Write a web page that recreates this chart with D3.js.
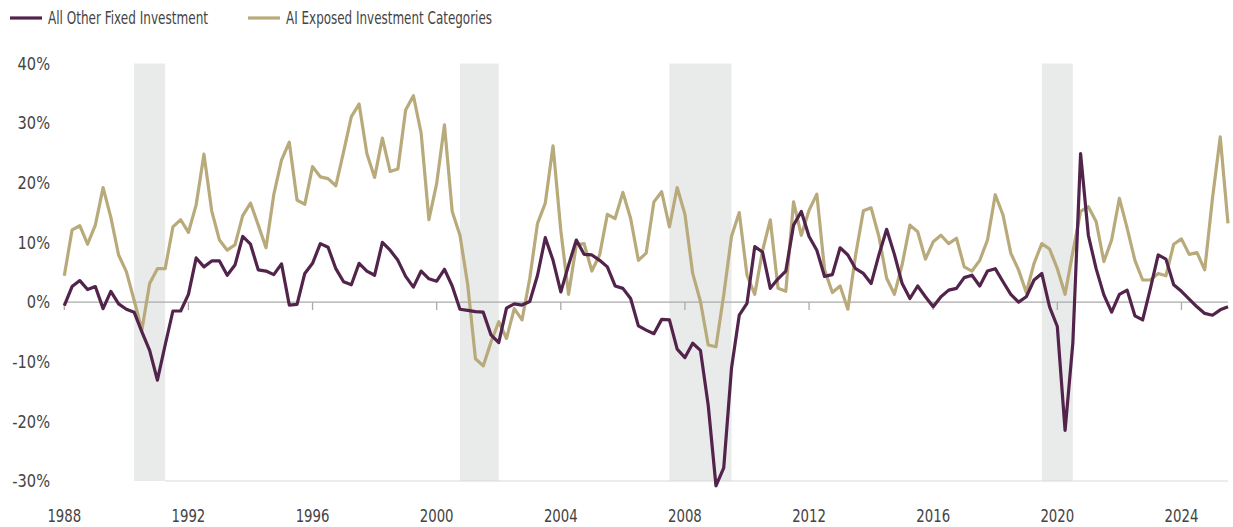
<!DOCTYPE html>
<html lang="en">
<head>
  <meta charset="UTF-8">
  <title>Fixed Investment Growth</title>
  <script src="https://d3js.org/d3.v7.min.js"></script>
  <style>
    body { margin: 0; background: #fff; }
    text { font-family: "DejaVu Sans Condensed", "Liberation Sans Narrow", "Roboto", sans-serif; fill: #444; }
  </style>
</head>
<body>
  <svg id="chart" width="1233" height="527"></svg>

  <script>
    // quarterly data, first point 1988 Q1
    const startYear = 1988;

    const allOther = [
      -0.6, 2.6, 3.6, 2.1, 2.6, -1.1, 1.8, -0.3, -1.2, -1.7,
      -5.0, -8.1, -13.1, -7.2, -1.5, -1.5, 1.3, 7.4, 5.9, 6.9,
      6.9, 4.5, 6.2, 11.0, 9.7, 5.4, 5.2, 4.6, 6.4, -0.5,
      -0.4, 4.8, 6.5, 9.8, 9.2, 5.6, 3.4, 2.9, 6.5, 5.2,
      4.5, 10.0, 8.7, 7.0, 4.3, 2.5, 5.2, 3.9, 3.5, 5.5,
      2.7, -1.2, -1.4, -1.6, -1.7, -5.5, -6.8, -1.0, -0.3, -0.5,
      0.1, 4.5, 10.8, 7.0, 1.7, 6.2, 10.4, 8.0, 7.9, 7.0,
      5.9, 2.7, 2.3, 0.6, -4.0, -4.7, -5.3, -2.9, -3.0, -7.9,
      -9.3, -6.9, -8.1, -17.3, -30.8, -27.8, -11.1, -2.2, -0.2, 9.3,
      8.4, 2.3, 3.9, 5.2, 12.9, 15.2, 11.0, 8.7, 4.3, 4.6,
      9.1, 7.9, 5.6, 4.8, 3.1, 7.9, 12.2, 8.0, 3.1, 0.6,
      2.7, 0.9, -0.8, 0.9, 2.0, 2.3, 4.1, 4.5, 2.7, 5.2,
      5.6, 3.4, 1.3, 0.0, 0.9, 3.7, 4.8, -0.8, -4.1, -21.5,
      -6.9, 24.9, 11.2, 5.6, 1.2, -1.7, 1.3, 2.0, -2.3, -3.0,
      2.3, 7.9, 7.2, 2.9, 1.8, 0.5, -0.8, -1.9, -2.2, -1.3,
      -0.8
    ];

    const aiExposed = [
      4.4, 12.1, 12.8, 9.7, 12.9, 19.2, 14.2, 7.9, 5.1, 0.3,
      -4.7, 3.1, 5.6, 5.6, 12.6, 13.8, 11.7, 16.3, 24.8, 15.3,
      10.4, 8.7, 9.6, 14.5, 16.6, 12.9, 9.1, 18.0, 23.8, 26.8,
      17.1, 16.4, 22.7, 21.0, 20.7, 19.5, 25.2, 31.1, 33.2, 24.9,
      20.9, 27.5, 21.9, 22.3, 32.2, 34.6, 28.3, 13.8, 19.9, 29.7,
      15.2, 11.2, 2.9, -9.5, -10.7, -6.7, -3.3, -6.1, -1.1, -3.0,
      4.0, 13.2, 16.6, 26.2, 12.0, 1.3, 9.6, 9.8, 5.2, 7.9,
      14.7, 14.0, 18.4, 14.0, 7.0, 8.2, 16.8, 18.5, 12.6, 19.2,
      14.7, 4.8, 0.1, -7.2, -7.5, 1.2, 11.0, 15.0, 4.5, 1.3,
      8.6, 13.8, 2.3, 1.8, 16.8, 11.2, 15.4, 18.1, 5.4, 1.6,
      2.7, -1.2, 7.9, 15.3, 15.8, 11.0, 4.0, 1.3, 6.3, 12.9,
      11.8, 7.2, 10.1, 11.2, 9.8, 10.7, 5.9, 5.2, 7.0, 10.4,
      18.0, 14.6, 8.2, 5.4, 1.6, 6.5, 9.8, 8.9, 5.6, 1.3,
      8.4, 15.2, 16.0, 13.5, 6.8, 10.4, 17.4, 12.4, 7.0, 3.7,
      3.7, 4.8, 4.4, 9.7, 10.6, 8.0, 8.3, 5.4, 17.4, 27.7,
      13.2
    ];

    // recession periods (start, end) in decimal years
    const recessions = [[1990.25, 1991.25], [2000.75, 2002.0], [2007.5, 2009.5], [2019.5, 2020.5]];

    const yTicks = [40, 30, 20, 10, 0, -10, -20, -30];
    const xTicks = [1988, 1992, 1996, 2000, 2004, 2008, 2012, 2016, 2020, 2024];

    const seriesNames = ["All Other Fixed Investment", "AI Exposed Investment Categories"];
    const colors = ["#52234b", "#b8aa7b"];

    const svg = d3.select("#chart");

    const x = d3.scaleLinear().domain([1988, 2025.5]).range([64.3, 1228]);
    const y = d3.scaleLinear().domain([-30, 40]).range([481, 63.5]);

    // squeeze text horizontally to mimic the condensed face
    function condense(sel, k) {
      sel.each(function () {
        const w = this.getComputedTextLength();
        d3.select(this).attr("textLength", w * k).attr("lengthAdjust", "spacingAndGlyphs");
      });
    }

    // recession shading
    svg.selectAll(".rec")
      .data(recessions)
      .enter().append("rect")
      .attr("class", "rec")
      .attr("x", d => x(d[0]))
      .attr("width", d => x(d[1]) - x(d[0]))
      .attr("y", y(40))
      .attr("height", y(-30) - y(40))
      .attr("fill", "#e9ebea");

    // bottom line
    svg.append("line")
      .attr("x1", x(recessions[0][1])).attr("x2", x(2025.5))
      .attr("y1", y(-30)).attr("y2", y(-30))
      .attr("stroke", "#d9d9d9").attr("stroke-width", 1.2);

    // zero line with year ticks
    svg.append("line")
      .attr("x1", x(1988)).attr("x2", x(2025.5))
      .attr("y1", y(0)).attr("y2", y(0))
      .attr("stroke", "#aaaaaa").attr("stroke-width", 1.3);

    svg.selectAll(".tick")
      .data(xTicks)
      .enter().append("line")
      .attr("class", "tick")
      .attr("x1", d => x(d)).attr("x2", d => x(d))
      .attr("y1", y(0)).attr("y2", y(0) + 8)
      .attr("stroke", "#aaaaaa").attr("stroke-width", 1.3);

    // y labels
    svg.selectAll(".ylab")
      .data(yTicks)
      .enter().append("text")
      .attr("class", "ylab")
      .attr("x", 50)
      .attr("y", d => y(d))
      .attr("dy", "0.35em")
      .attr("text-anchor", "end")
      .style("font-size", "18px")
      .text(d => d + "%")
      .call(condense, 0.9);

    // x labels
    svg.selectAll(".xlab")
      .data(xTicks)
      .enter().append("text")
      .attr("class", "xlab")
      .attr("x", d => x(d))
      .attr("y", 516)
      .attr("dy", "0.35em")
      .attr("text-anchor", "middle")
      .style("font-size", "18px")
      .text(d => d)
      .call(condense, 0.82);

    const line = d3.line()
      .x((d, i) => x(startYear + i / 4))
      .y(d => y(d));

    // gold first, purple on top
    [aiExposed, allOther].forEach((s, k) => {
      svg.append("path")
        .datum(s)
        .attr("fill", "none")
        .attr("stroke", k === 0 ? colors[1] : colors[0])
        .attr("stroke-width", 3.2)
        .attr("stroke-linejoin", "round")
        .attr("d", line);
    });

    // legend
    const legendX = [10, 248];
    const legendW = [160, 206];
    seriesNames.forEach((name, i) => {
      svg.append("line")
        .attr("x1", legendX[i]).attr("x2", legendX[i] + 32)
        .attr("y1", 18).attr("y2", 18)
        .attr("stroke", colors[i]).attr("stroke-width", 3.2);
      svg.append("text")
        .attr("x", legendX[i] + 38)
        .attr("y", 18)
        .attr("dy", "0.35em")
        .attr("textLength", legendW[i])
        .attr("lengthAdjust", "spacingAndGlyphs")
        .style("font-size", "18px")
        .text(name);
    });
  </script>
</body>
</html>
